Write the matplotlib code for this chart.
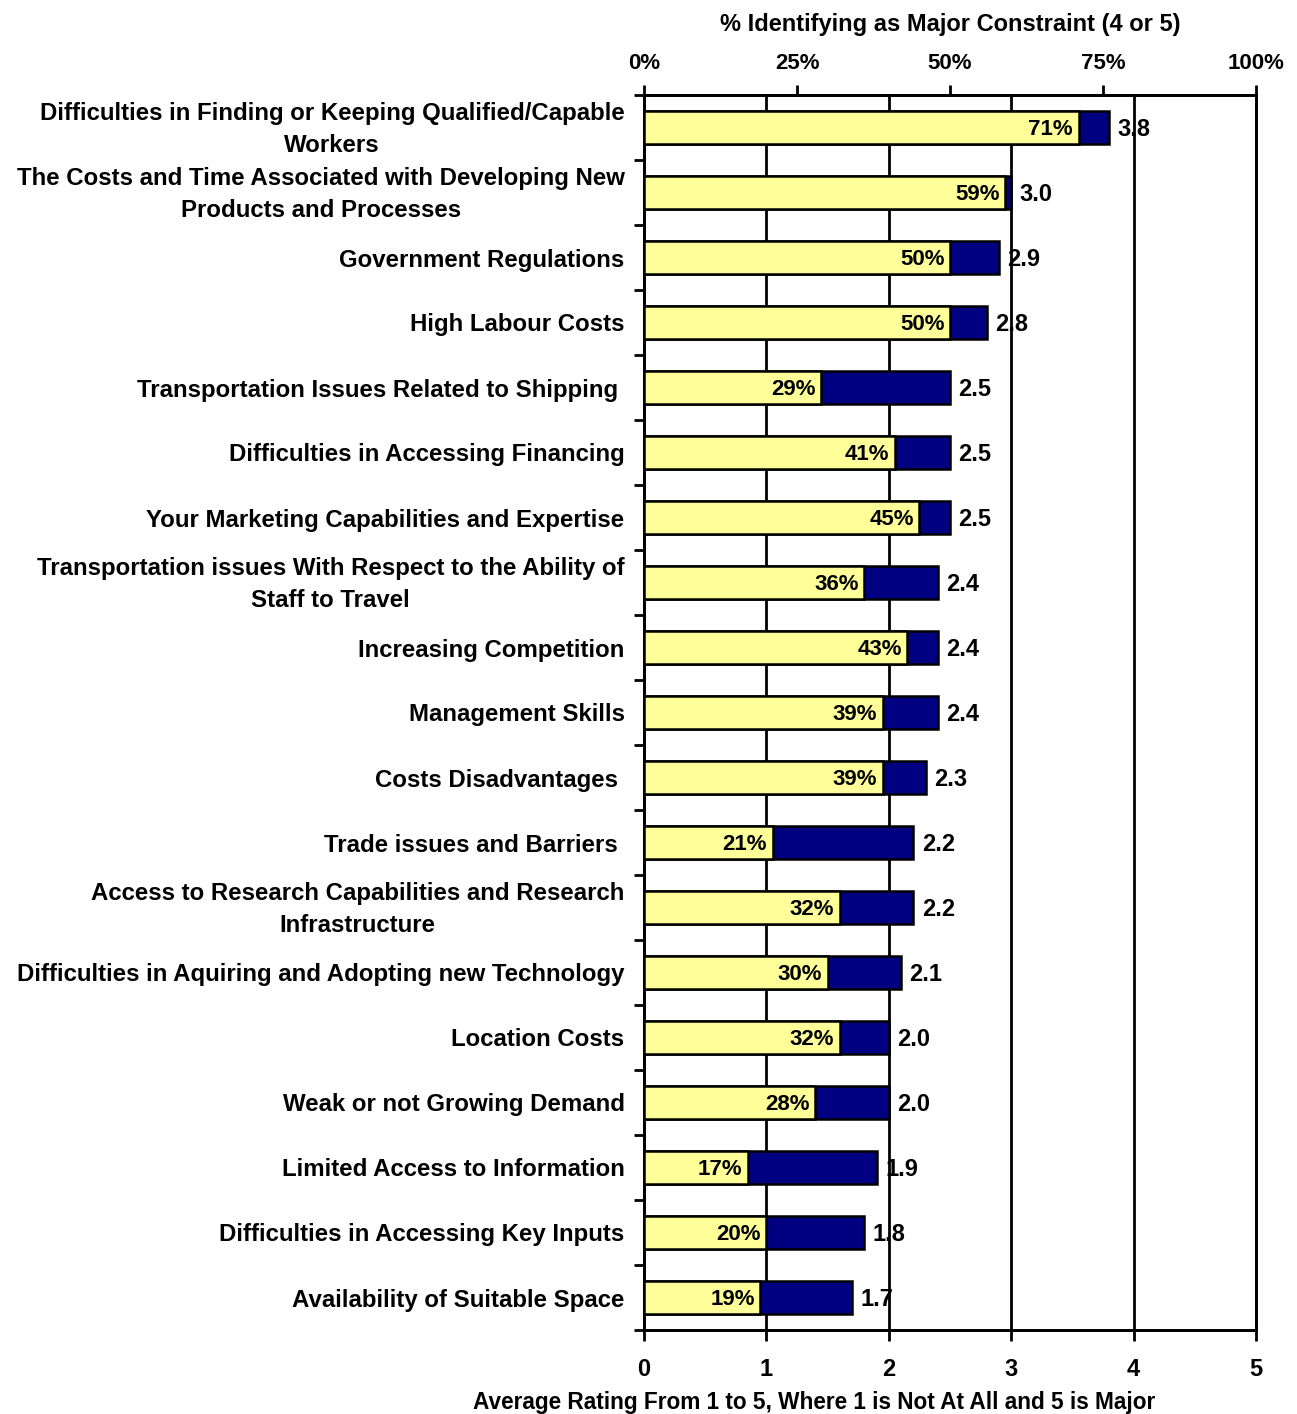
import numpy as np
import matplotlib.pyplot as plt
from matplotlib.ticker import FixedLocator
from matplotlib.transforms import ScaledTranslation

plt.rcParams['font.family'] = ['Liberation Sans', 'DejaVu Sans']
plt.rcParams['font.weight'] = 'bold'

constraints = [
    "Difficulties in Finding or Keeping Qualified/Capable\nWorkers",
    "The Costs and Time Associated with Developing New\nProducts and Processes",
    "Government Regulations",
    "High Labour Costs",
    "Transportation Issues Related to Shipping ",
    "Difficulties in Accessing Financing",
    "Your Marketing Capabilities and Expertise",
    "Transportation issues With Respect to the Ability of\nStaff to Travel",
    "Increasing Competition",
    "Management Skills",
    "Costs Disadvantages ",
    "Trade issues and Barriers ",
    "Access to Research Capabilities and Research\nInfrastructure",
    "Difficulties in Aquiring and Adopting new Technology",
    "Location Costs",
    "Weak or not Growing Demand",
    "Limited Access to Information",
    "Difficulties in Accessing Key Inputs",
    "Availability of Suitable Space",
]
avg_rating = [3.8, 3.0, 2.9, 2.8, 2.5, 2.5, 2.5, 2.4, 2.4, 2.4,
              2.3, 2.2, 2.2, 2.1, 2.0, 2.0, 1.9, 1.8, 1.7]
pct_major = [71, 59, 50, 50, 29, 41, 45, 36, 43, 39,
             39, 21, 32, 30, 32, 28, 17, 20, 19]

rating_ticks = [0, 1, 2, 3, 4, 5]
pct_ticks = [0, 25, 50, 75, 100]

W, H = 1297, 1414
fig = plt.figure(figsize=(W / 100, H / 100), dpi=100)
ax = fig.add_axes([644 / W, 1 - 1330 / H, (1256 - 644) / W, (1330 - 95) / H])
ax2 = ax.twiny()

y = np.arange(len(constraints))
bar_h = 0.5

# average rating (navy) underneath, share of 4-or-5 answers (yellow) on top
ax.barh(y, avg_rating, height=bar_h, color='#000080', edgecolor='black', linewidth=1.8, zorder=3)
ax2.barh(y, pct_major, height=bar_h, color='#FFFF99', edgecolor='black', linewidth=1.8, zorder=3)

for yi, r in zip(y, avg_rating):
    ax.text(r + 0.07, yi + 0.03, f"{r:.1f}", va='center', ha='left', fontsize=17, fontweight='bold', zorder=5)
for yi, p in zip(y, pct_major):
    ax2.text(p - 0.9, yi + 0.03, f"{p}%", va='center', ha='right', fontsize=16, fontweight='bold', zorder=5)

ax.set_xlim(0, 5)
ax2.set_xlim(0, 100)
ax.set_ylim(len(constraints) - 0.5, -0.5)

# vertical grid at each rating step
for g in rating_ticks[1:-1]:
    ax.axvline(g, color='black', linewidth=2, zorder=1)

ax.set_xticks(rating_ticks)
ax.set_xticklabels([str(t) for t in rating_ticks], fontsize=17, fontweight='bold')
ax.tick_params(axis='x', direction='out', length=8, width=2, pad=12)

ax2.set_xticks(pct_ticks)
ax2.set_xticklabels([f"{t}%" for t in pct_ticks], fontsize=16, fontweight='bold')
ax2.tick_params(axis='x', direction='out', length=7, width=2, pad=8)

ax.set_yticks(y)
ax.set_yticklabels(constraints, fontsize=17.3, fontweight='bold', multialignment='center',
                   linespacing=1.5)
ax.tick_params(axis='y', length=0, pad=14)
ax.yaxis.set_minor_locator(FixedLocator(np.arange(-0.5, len(constraints), 1.0)))
ax.tick_params(axis='y', which='minor', direction='out', length=7, width=2)

# two-line labels sit a little low; nudge them up
nudge = ScaledTranslation(0, 5 / 100, fig.dpi_scale_trans)
for lbl in ax.get_yticklabels():
    if "\n" in lbl.get_text():
        lbl.set_transform(lbl.get_transform() + nudge)

for a in (ax, ax2):
    for s in a.spines.values():
        s.set_linewidth(2)
ax2.patch.set_visible(False)

ax2.set_xlabel("% Identifying as Major Constraint (4 or 5)", fontsize=17, fontweight='bold', labelpad=16)
ax.set_xlabel("Average Rating From 1 to 5, Where 1 is Not At All and 5 is Major",
              fontsize=16.3, fontweight='bold')
ax.xaxis.set_label_coords((814 - 644) / (1256 - 644), -0.049)

fig.savefig("out.png", dpi=100)
